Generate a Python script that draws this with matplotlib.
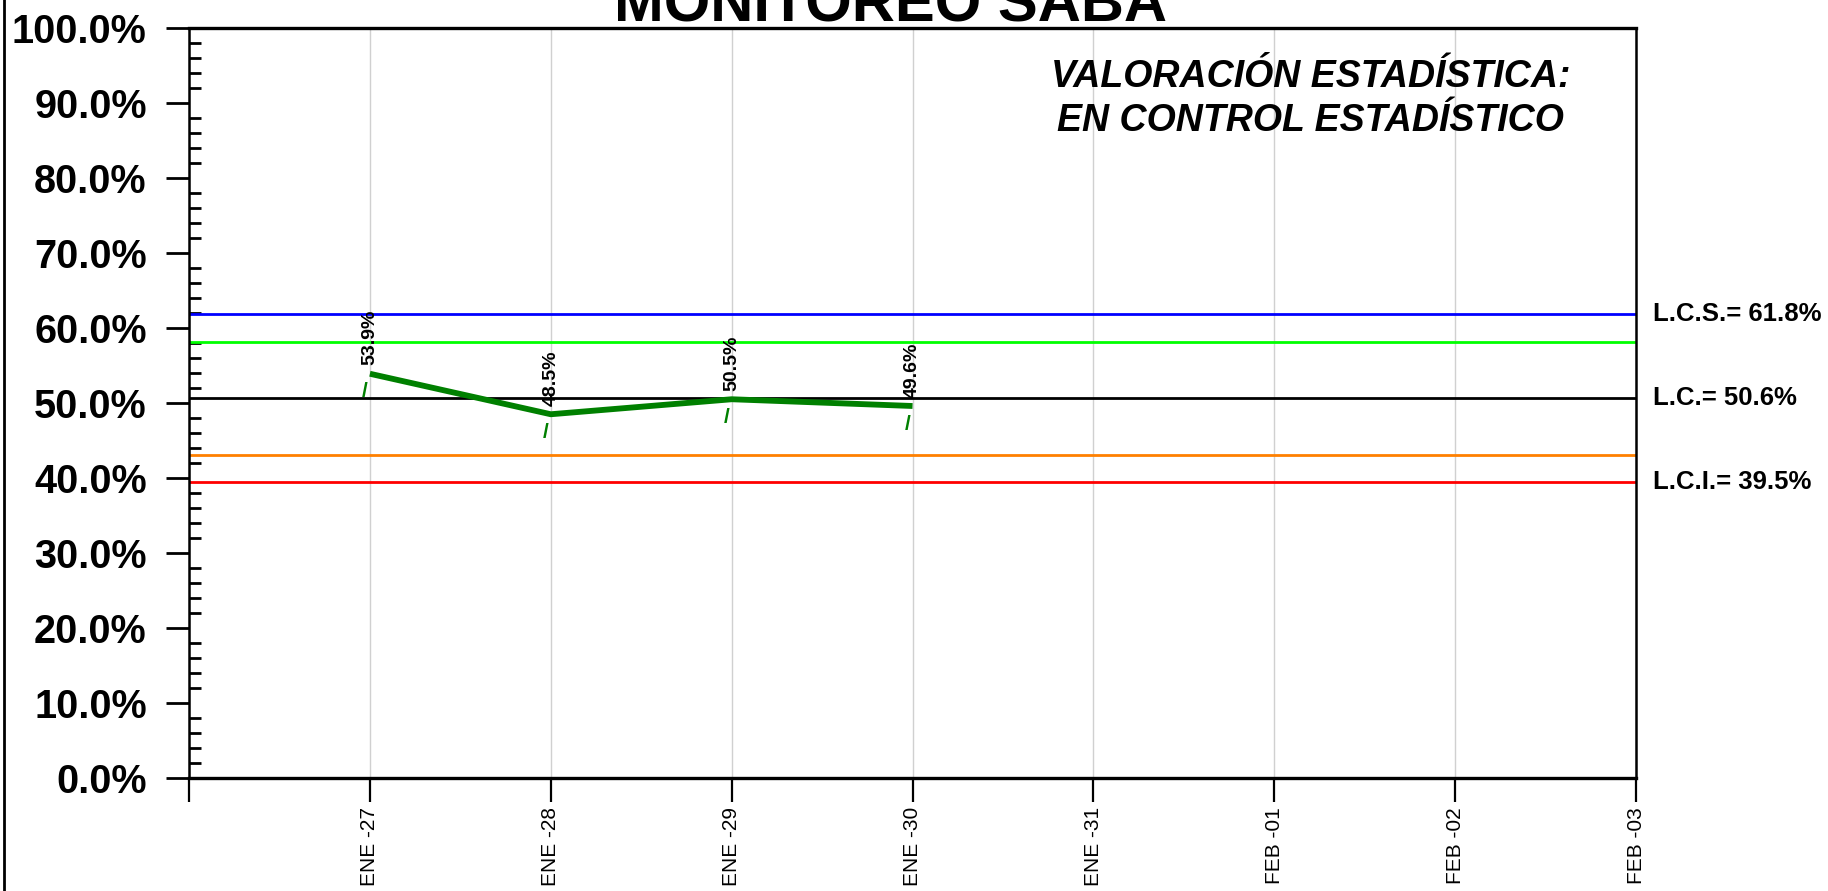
import matplotlib
matplotlib.use('Agg')
import matplotlib.pyplot as plt
from matplotlib.ticker import FuncFormatter, MultipleLocator
from matplotlib.lines import Line2D

plt.rcParams['font.family'] = ['Liberation Sans', 'DejaVu Sans']

# Data
fechas = ['', 'ENE -27', 'ENE -28', 'ENE -29', 'ENE -30', 'ENE -31',
          'FEB -01', 'FEB -02', 'FEB -03']
valores = [53.9, 48.5, 50.5, 49.6]
lcs = 61.8
lc = 50.6
lci = 39.5
sup_2s = 58.1
inf_2s = 43.1

fig = plt.figure(figsize=(18.28, 8.91), dpi=100)
ax = fig.add_axes([0.1034, 0.1268, 0.895 - 0.1034, 0.9686 - 0.1268])

x_pos = list(range(1, len(valores) + 1))

# Control lines
ax.axhline(lcs, color='#0000FF', linewidth=2, zorder=2)
ax.axhline(sup_2s, color='#00FF00', linewidth=2, zorder=2)
ax.axhline(lc, color='black', linewidth=2, zorder=2)
ax.axhline(inf_2s, color='#FF8000', linewidth=2, zorder=2)
ax.axhline(lci, color='#FF0000', linewidth=2, zorder=2)

# Series
ax.plot(x_pos, valores, color='#008000', linewidth=4.2, zorder=3,
        solid_capstyle='butt')

for x, v in zip(x_pos, valores):
    ax.annotate(f'{v:.1f}%', (x, v), xytext=(0, 6), textcoords='offset points',
                rotation=90, ha='center', va='bottom', fontsize=14,
                fontweight='bold', color='black', zorder=4)
    ax.annotate('/', (x, v), xytext=(-3.5, -13), textcoords='offset points',
                ha='center', va='center', fontsize=15, fontweight='bold',
                color='#008000', zorder=4)

# Limit labels on the right
for val, lab in [(lcs, 'L.C.S.= 61.8%'), (lc, 'L.C.= 50.6%'),
                 (lci, 'L.C.I.= 39.5%')]:
    ax.annotate(lab, (1.0, val), xycoords=('axes fraction', 'data'),
                xytext=(12, 0), textcoords='offset points', ha='left',
                va='center', fontsize=18.5, fontweight='bold',
                annotation_clip=False)

# Axes
ax.set_xlim(0, 8)
ax.set_ylim(0, 100)
ax.set_xticks(range(len(fechas)))
ax.set_xticklabels(fechas, rotation=90, fontsize=15)
ax.yaxis.set_major_locator(MultipleLocator(10))
ax.yaxis.set_minor_locator(MultipleLocator(2))
ax.yaxis.set_major_formatter(FuncFormatter(lambda v, p: f'{v:.1f}%'))
ax.tick_params(axis='y', which='major', direction='out', length=16.5,
               width=2, labelsize=28.5, pad=14)
ax.tick_params(axis='y', which='minor', direction='in', length=8.6, width=2)
ax.tick_params(axis='x', which='major', direction='out', length=17,
               width=1.6, pad=4)
for lbl in ax.get_yticklabels():
    lbl.set_fontweight('bold')

ax.grid(True, axis='x', color='#d0d0d0', linewidth=1)
ax.set_axisbelow(True)

ax.spines['top'].set_linewidth(2.4)
ax.spines['bottom'].set_linewidth(2.4)
ax.spines['left'].set_linewidth(1.8)
ax.spines['right'].set_linewidth(1.8)

# Status text
ax.text(0.775, 0.905, 'VALORACIÓN ESTADÍSTICA:\nEN CONTROL ESTADÍSTICO',
        transform=ax.transAxes, ha='center', va='center', fontsize=27,
        fontweight='bold', fontstyle='italic', linespacing=1.3)

# Title (clipped at the top of the image, as in the source)
fig.text(890 / 1828, 1 - 21 / 891, 'MONITOREO SABA', ha='center',
         va='baseline', fontsize=43, fontweight='bold')

# Left border line
fig.add_artist(Line2D([4 / 1828, 4 / 1828], [0, 1], color='black',
                      linewidth=2, transform=fig.transFigure))

fig.savefig('out.png', dpi=100)
